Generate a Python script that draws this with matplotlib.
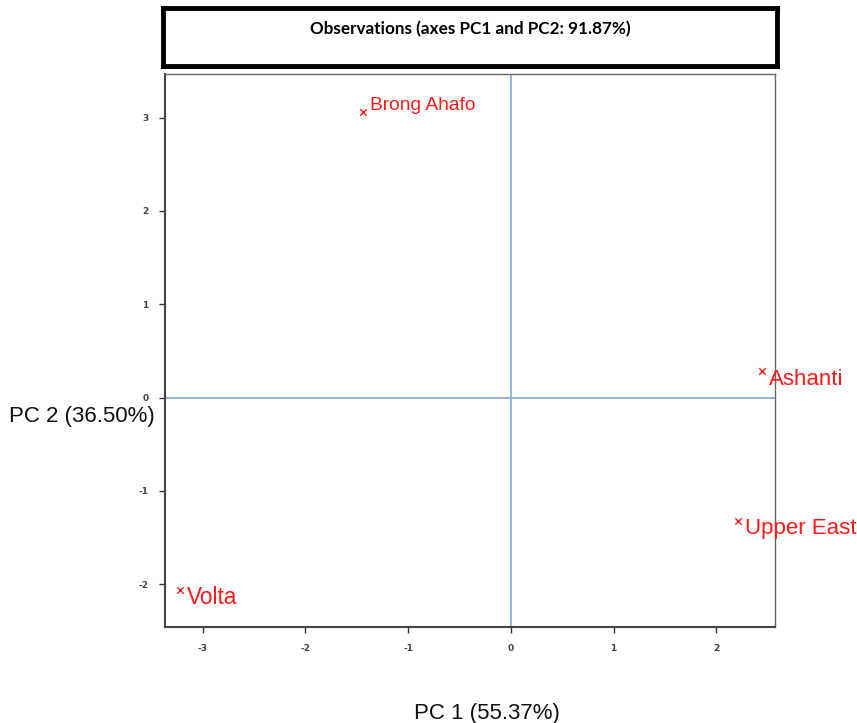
import matplotlib
matplotlib.use("Agg")
import matplotlib.pyplot as plt

# Data
names = ["Brong Ahafo", "Ashanti", "Upper East", "Volta"]
pc1 = [-1.44, 2.44, 2.21, -3.22]
pc2 = [3.06, 0.28, -1.32, -2.06]
xticks = [-3, -2, -1, 0, 1, 2]
yticks = [-2, -1, 0, 1, 2, 3]
title = "Observations (axes PC1 and PC2: 91.87%)"
xlabel = "PC 1 (55.37%)"
ylabel = "PC 2 (36.50%)"

label_sizes = [13.8, 16, 16, 16.3]
label_offsets = [(5, 5), (5, -5.5), (5, -5.5), (5, -5.5)]

W, H = 857, 723
fig = plt.figure(figsize=(W / 100, H / 100), dpi=100)

# main axes
ax = fig.add_axes([165 / W, 1 - 627 / H, (775 - 165) / W, (627 - 74) / H])
ax.set_xlim(-3.367, 2.571)
ax.set_ylim(-2.461, 3.469)
ax.axhline(0, color="#7b9fcf", lw=1.1, zorder=1)
ax.axvline(0, color="#7b9fcf", lw=1.1, zorder=1)

ax.scatter(pc1, pc2, marker="x", color="#ff1a1a", s=22, linewidths=1.0, zorder=3)
for n, x, y, fs, off in zip(names, pc1, pc2, label_sizes, label_offsets):
    ax.annotate(n, (x, y), xytext=off, textcoords="offset points",
                color="#ff1a1a", fontsize=fs, family="Liberation Sans",
                ha="left", va="center", zorder=4, annotation_clip=False)

ax.set_xticks(xticks)
ax.set_yticks(yticks)
ax.set_xticklabels([str(t) for t in xticks])
ax.set_yticklabels([str(t) for t in yticks])
ax.tick_params(direction="out", length=4, width=1, colors="#333333",
               labelsize=6.5, labelcolor="#444444", pad=8)
for lab in ax.get_xticklabels() + ax.get_yticklabels():
    lab.set_fontweight("bold")
for sp in ax.spines.values():
    sp.set_color("#666666")
    sp.set_linewidth(1.0)
ax.spines["left"].set_color("#444444")
ax.spines["bottom"].set_color("#444444")
ax.spines["left"].set_linewidth(1.5)
ax.spines["bottom"].set_linewidth(1.5)

fig.text(487 / W, 1 - 713 / H, xlabel, ha="center", va="center",
         fontsize=16, family="Liberation Sans", color="#111111")
fig.text(82 / W, 1 - 417 / H, ylabel, ha="center", va="center",
         fontsize=16, family="Liberation Sans", color="#111111")

# title box
tax = fig.add_axes([163 / W, 1 - 66 / H, (777 - 163) / W, (66 - 8) / H])
tax.set_xticks([])
tax.set_yticks([])
for sp in tax.spines.values():
    sp.set_linewidth(3.5)
    sp.set_color("black")
tax.text(0.5, 0.64, title, ha="center", va="center", fontsize=12.3,
         fontweight="bold", family="Lato", transform=tax.transAxes)

fig.savefig("out.png", dpi=100)
